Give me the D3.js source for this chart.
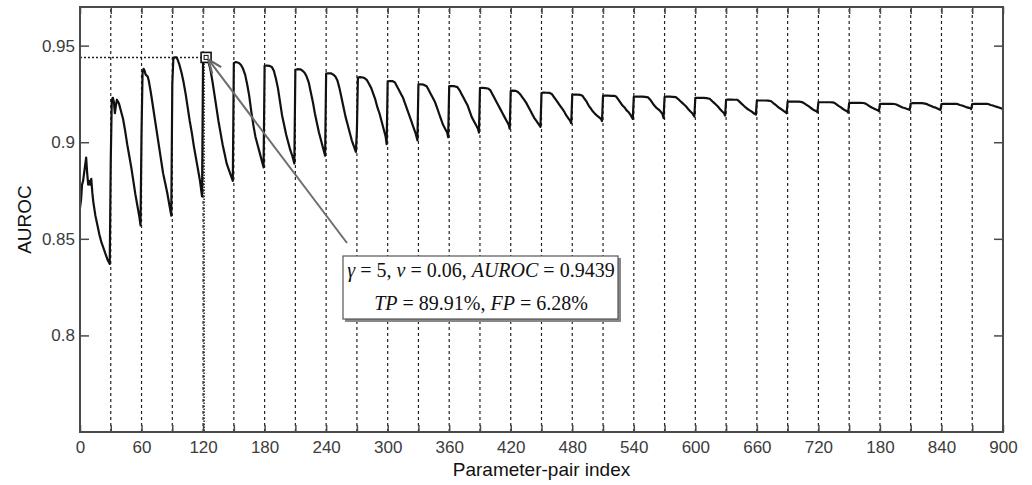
<!DOCTYPE html>
<html>
<head>
<meta charset="utf-8">
<script src="https://cdn.jsdelivr.net/npm/d3@7/dist/d3.min.js"></script>
<style>
	body { margin: 0; background: #fff; }
	.sans { font-family: "Liberation Sans", Arial, sans-serif; }
	.serif { font-family: "Liberation Serif", "Times New Roman", serif; }
</style>
</head>
<body>
<script>
var width = 1032,
	height = 485,
	axisColor = "#4a4a4a",
	labelColor = "#3c3c3c";

// x ticks every 30, labels every 60 (the 780 label reads "180" in the original)
var xTicks = [0, 30, 60, 90, 120, 150, 180, 210, 240, 270, 300, 330, 360, 390, 420, 450,
	480, 510, 540, 570, 600, 630, 660, 690, 720, 750, 780, 810, 840, 870, 900];
var xLabelValues = [0, 60, 120, 180, 240, 300, 360, 420, 480, 540, 600, 660, 720, 780, 840, 900];
var xLabels = ["0", "60", "120", "180", "240", "300", "360", "420", "480", "540", "600", "660", "720", "180", "840", "900"];
var yTicks = [0.8, 0.85, 0.9, 0.95];
var yLabels = ["0.8", "0.85", "0.9", "0.95"];
// dashed separators between the 30 groups of parameter pairs
var groupBounds = [30, 60, 90, 120, 150, 180, 210, 240, 270, 300, 330, 360, 390, 420, 450,
	480, 510, 540, 570, 600, 630, 660, 690, 720, 750, 780, 810, 840, 870];

// AUROC: [parameter-pair index, AUROC], one row per group
var auroc = [
	[0,0.866],[1,0.870],[2,0.878],[3,0.880],[4,0.884],[6,0.892],[7,0.884],[8,0.878],[9,0.880],[10,0.878],[11,0.881],[12,0.874],[13,0.869],[15,0.862],[17,0.857],[19,0.852],[21,0.848],[23,0.845],[25,0.842],[27,0.839],[29,0.837],
	[30,0.891],[31,0.922],[32,0.923],[33,0.921],[34,0.915],[35,0.919],[36,0.922],[38,0.920],[40,0.916],[42,0.912],[44,0.906],[46,0.899],[48,0.893],[50,0.887],[52,0.880],[54,0.873],[56,0.867],[58,0.861],[59,0.857],
	[60,0.905],[61,0.936],[62,0.938],[63,0.937],[64,0.935],[66,0.934],[67,0.932],[69,0.926],[71,0.919],[73,0.912],[75,0.905],[77,0.898],[79,0.891],[81,0.884],[83,0.879],[85,0.874],[87,0.868],[89,0.862],
	[90,0.930],[91,0.943],[92,0.9439],[94,0.9439],[95,0.943],[97,0.940],[99,0.936],[101,0.931],[103,0.925],[105,0.918],[107,0.911],[109,0.905],[111,0.898],[113,0.892],[115,0.886],[117,0.880],[119,0.872],
	[120,0.9439],[121,0.9439],[123,0.9435],[125,0.942],[127,0.938],[129,0.932],[131,0.925],[133,0.918],[135,0.911],[137,0.905],[139,0.899],[141,0.894],[143,0.889],[145,0.886],[147,0.883],[149,0.880],
	[150,0.941],[152,0.9415],[155,0.941],[157,0.940],[159,0.938],[161,0.935],[163,0.930],[165,0.924],[167,0.916],[169,0.909],[171,0.903],[173,0.899],[175,0.895],[177,0.891],[179,0.887],
	[180,0.9395],[182,0.9397],[185,0.9395],[187,0.939],[189,0.937],[191,0.933],[193,0.928],[195,0.921],[197,0.914],[199,0.909],[201,0.904],[203,0.900],[205,0.896],[207,0.893],[209,0.889],
	[210,0.9375],[212,0.9378],[215,0.9377],[217,0.937],[219,0.936],[221,0.934],[223,0.931],[225,0.926],[227,0.921],[229,0.915],[231,0.910],[233,0.905],[235,0.901],[237,0.897],[239,0.893],
	[240,0.9355],[242,0.9357],[245,0.9356],[247,0.935],[249,0.934],[251,0.932],[253,0.928],[255,0.923],[257,0.918],[259,0.913],[261,0.909],[263,0.905],[265,0.901],[267,0.898],[269,0.895],
	[270,0.906],[271,0.9335],[273,0.9337],[276,0.9335],[278,0.933],[280,0.932],[282,0.930],[284,0.928],[286,0.925],[288,0.922],[290,0.918],[292,0.915],[294,0.911],[296,0.907],[298,0.903],[299,0.899],
	[300,0.9315],[302,0.9317],[305,0.9316],[307,0.931],[309,0.929],[311,0.927],[313,0.925],[315,0.923],[317,0.920],[319,0.917],[321,0.914],[323,0.911],[325,0.908],[327,0.905],[329,0.901],
	[330,0.9298],[332,0.930],[335,0.9298],[338,0.929],[340,0.927],[342,0.925],[344,0.923],[346,0.921],[348,0.918],[350,0.915],[352,0.912],[354,0.909],[356,0.907],[358,0.905],[359,0.9026],
	[360,0.929],[362,0.929],[365,0.929],[368,0.9285],[370,0.927],[372,0.925],[374,0.923],[376,0.921],[378,0.919],[380,0.916],[382,0.913],[384,0.911],[386,0.909],[388,0.907],[389,0.905],
	[390,0.928],[392,0.9282],[395,0.928],[398,0.9278],[400,0.927],[402,0.925],[404,0.923],[406,0.921],[408,0.919],[410,0.917],[412,0.915],[414,0.913],[416,0.911],[418,0.909],[419,0.907],
	[420,0.9265],[422,0.9267],[425,0.9266],[427,0.926],[429,0.925],[431,0.9235],[433,0.922],[435,0.9205],[437,0.9185],[439,0.9165],[441,0.9145],[443,0.9125],[445,0.911],[447,0.9095],[449,0.908],
	[450,0.9255],[452,0.9257],[455,0.9256],[458,0.9255],[460,0.925],[462,0.9235],[464,0.922],[466,0.9205],[468,0.919],[470,0.9175],[472,0.916],[474,0.914],[476,0.9125],[478,0.911],[479,0.9098],
	[480,0.9245],[482,0.9247],[485,0.9246],[488,0.9245],[490,0.924],[492,0.9225],[494,0.921],[496,0.919],[498,0.9175],[500,0.916],[502,0.9148],[504,0.9138],[506,0.913],[508,0.912],[509,0.911],
	[510,0.924],[512,0.9241],[515,0.9241],[518,0.924],[521,0.924],[523,0.9235],[525,0.922],[527,0.9205],[529,0.919],[531,0.918],[533,0.9165],[535,0.9155],[537,0.914],[539,0.9121],
	[540,0.9235],[542,0.9236],[545,0.9236],[548,0.9236],[551,0.9235],[554,0.9232],[556,0.922],[558,0.9205],[560,0.919],[562,0.9178],[564,0.917],[566,0.916],[568,0.9145],[569,0.9125],
	[570,0.9234],[572,0.9236],[575,0.9236],[578,0.9235],[581,0.9233],[583,0.9225],[585,0.9215],[587,0.9205],[589,0.9195],[591,0.9185],[593,0.9172],[595,0.916],[597,0.915],[599,0.9133],
	[600,0.923],[602,0.923],[605,0.923],[608,0.923],[611,0.9228],[614,0.9225],[616,0.9215],[618,0.9205],[620,0.9195],[622,0.9185],[624,0.9172],[626,0.916],[628,0.915],[629,0.9138],
	[630,0.922],[632,0.9221],[635,0.9221],[638,0.922],[641,0.922],[643,0.921],[645,0.920],[647,0.919],[649,0.918],[651,0.9172],[653,0.9165],[655,0.9158],[657,0.915],[659,0.9143],
	[660,0.9215],[662,0.9216],[665,0.9216],[668,0.9216],[671,0.9215],[674,0.9212],[676,0.9203],[678,0.9195],[680,0.9185],[682,0.9177],[684,0.917],[686,0.9162],[688,0.9155],[689,0.915],
	[690,0.921],[692,0.921],[695,0.921],[698,0.921],[701,0.921],[704,0.9208],[706,0.9202],[708,0.9195],[710,0.9188],[712,0.918],[714,0.9172],[716,0.9165],[718,0.916],[719,0.9155],
	[720,0.9207],[722,0.9207],[725,0.9207],[728,0.9207],[731,0.9207],[734,0.9206],[736,0.9203],[738,0.9195],[740,0.9187],[742,0.918],[744,0.9172],[746,0.9165],[748,0.916],[749,0.9153],
	[750,0.9203],[752,0.9204],[755,0.9204],[758,0.9204],[761,0.9204],[764,0.9203],[766,0.920],[768,0.9193],[770,0.9186],[772,0.918],[774,0.9175],[776,0.917],[778,0.9165],[779,0.916],
	[780,0.9198],[782,0.9199],[785,0.9199],[788,0.9199],[791,0.9199],[794,0.9198],[796,0.9195],[798,0.919],[800,0.9185],[802,0.918],[804,0.9177],[806,0.9173],[808,0.917],[809,0.9167],
	[810,0.920],[812,0.9202],[815,0.9202],[818,0.9202],[821,0.9202],[824,0.920],[826,0.9197],[828,0.9192],[830,0.9187],[832,0.9182],[834,0.918],[836,0.9175],[838,0.917],[839,0.9167],
	[840,0.9198],[842,0.9199],[845,0.9199],[848,0.9199],[851,0.9199],[854,0.9199],[856,0.9197],[858,0.9193],[860,0.919],[862,0.9186],[864,0.9182],[866,0.9179],[868,0.9176],[869,0.9172],
	[870,0.9198],[872,0.9199],[875,0.9199],[878,0.9199],[881,0.9199],[884,0.9199],[886,0.9197],[888,0.9193],[890,0.919],[892,0.9186],[894,0.9183],[896,0.918],[898,0.9176],[900,0.9172]
];

// best parameter pair (data tip)
var bestIndex = 121,
	bestAuroc = 0.9439;

var svg = d3.select("body")
	.append("svg")
	.attr("width", width)
	.attr("height", height);

var x = d3.scaleLinear().domain([0, 900]).range([80, 1003]);
var y = d3.scaleLinear().domain([0.75, 0.97]).range([432, 7]);

// dashed group separators
svg.selectAll(".sep")
	.data(groupBounds)
	.enter().append("line")
	.attr("class", "sep")
	.attr("x1", function(d) { return x(d); })
	.attr("x2", function(d) { return x(d); })
	.attr("y1", y.range()[0])
	.attr("y2", y.range()[1])
	.attr("stroke", "#222")
	.attr("stroke-width", 1.2)
	.attr("stroke-dasharray", "3,3");

// dotted guides to the best point
svg.append("line")
	.attr("x1", x(0)).attr("x2", x(bestIndex))
	.attr("y1", y(bestAuroc)).attr("y2", y(bestAuroc))
	.attr("stroke", "#222")
	.attr("stroke-width", 1.5)
	.attr("stroke-dasharray", "2,2");
svg.append("line")
	.attr("x1", x(bestIndex)).attr("x2", x(bestIndex))
	.attr("y1", y(bestAuroc)).attr("y2", y.range()[0])
	.attr("stroke", "#222")
	.attr("stroke-width", 1.5)
	.attr("stroke-dasharray", "1.5,1.5");

// the AUROC curve
var line = d3.line()
	.x(function(d) { return x(d[0]); })
	.y(function(d) { return y(d[1]); });

svg.append("path")
	.datum(auroc)
	.attr("d", line)
	.attr("fill", "none")
	.attr("stroke", "#111")
	.attr("stroke-width", 2.2)
	.attr("stroke-linejoin", "round");

// axes, MATLAB style: box with inward ticks
var xAxis = d3.axisBottom(x)
	.tickValues(xTicks)
	.tickSize(-7)
	.tickPadding(9)
	.tickFormat(function(d) {
		var i = xLabelValues.indexOf(d);
		return i < 0 ? "" : xLabels[i];
	});
svg.append("g")
	.attr("transform", "translate(0," + y.range()[0] + ")")
	.call(xAxis);

svg.append("g")
	.attr("transform", "translate(0," + y.range()[1] + ")")
	.call(d3.axisTop(x).tickValues(xTicks).tickSize(-7).tickFormat(""));

var yAxis = d3.axisLeft(y)
	.tickValues(yTicks)
	.tickSize(-9)
	.tickPadding(5)
	.tickFormat(function(d, i) { return yLabels[i]; });
svg.append("g")
	.attr("transform", "translate(" + x.range()[0] + ",0)")
	.call(yAxis);

svg.append("g")
	.attr("transform", "translate(" + x.range()[1] + ",0)")
	.call(d3.axisRight(y).tickValues(yTicks).tickSize(-9).tickFormat(""));

svg.selectAll(".domain").remove();
svg.selectAll(".tick line").attr("stroke", axisColor).attr("stroke-width", 1.5);
svg.selectAll(".tick text")
	.attr("class", "sans")
	.attr("fill", labelColor)
	.attr("font-family", null)
	.style("font-size", "17px");

// frame
svg.append("rect")
	.attr("x", x.range()[0])
	.attr("y", y.range()[1])
	.attr("width", x.range()[1] - x.range()[0])
	.attr("height", y.range()[0] - y.range()[1])
	.attr("fill", "none")
	.attr("stroke", axisColor)
	.attr("stroke-width", 2);

// axis titles
svg.append("text")
	.attr("class", "sans")
	.attr("x", (x.range()[0] + x.range()[1]) / 2)
	.attr("y", 476)
	.attr("text-anchor", "middle")
	.style("font-size", "19px")
	.attr("fill", "#111")
	.text("Parameter-pair index");

svg.append("text")
	.attr("class", "sans")
	.attr("transform", "translate(31," + (y.range()[0] + y.range()[1]) / 2 + ") rotate(-90)")
	.attr("text-anchor", "middle")
	.style("font-size", "19px")
	.attr("fill", "#111")
	.text("AUROC");

// data tip marker
var mx = x(bestIndex) + 2, my = y(bestAuroc);
svg.append("rect")
	.attr("x", mx - 5).attr("y", my - 5)
	.attr("width", 10).attr("height", 10)
	.attr("fill", "#fff")
	.attr("stroke", "#111")
	.attr("stroke-width", 1.6);
svg.append("rect")
	.attr("x", mx - 2).attr("y", my - 2)
	.attr("width", 4).attr("height", 4)
	.attr("fill", "none")
	.attr("stroke", "#111")
	.attr("stroke-width", 1);

// annotation arrow
svg.append("defs").append("marker")
	.attr("id", "head")
	.attr("viewBox", "0 0 10 10")
	.attr("refX", 9).attr("refY", 5)
	.attr("markerWidth", 7).attr("markerHeight", 7)
	.attr("orient", "auto")
	.append("path")
	.attr("d", "M0,1L10,5L0,9")
	.attr("fill", "none")
	.attr("stroke", "#666")
	.attr("stroke-width", 1.6);

svg.append("line")
	.attr("x1", 347).attr("y1", 243)
	.attr("x2", mx + 3).attr("y2", my + 3)
	.attr("stroke", "#6e6e6e")
	.attr("stroke-width", 2)
	.attr("marker-end", "url(#head)");

// annotation box
svg.append("rect")
	.attr("x", 345).attr("y", 258)
	.attr("width", 276).attr("height", 64)
	.attr("fill", "#888");
svg.append("rect")
	.attr("x", 343).attr("y", 256)
	.attr("width", 275).attr("height", 63)
	.attr("fill", "#fff")
	.attr("stroke", "#555")
	.attr("stroke-width", 1.2);

var t1 = svg.append("text")
	.attr("class", "serif")
	.attr("x", 481).attr("y", 277)
	.attr("text-anchor", "middle")
	.style("font-size", "20px")
	.attr("fill", "#111");
t1.append("tspan").style("font-style", "italic").text("γ");
t1.append("tspan").text(" = 5, ");
t1.append("tspan").style("font-style", "italic").text("ν");
t1.append("tspan").text(" = 0.06, ");
t1.append("tspan").style("font-style", "italic").text("AUROC");
t1.append("tspan").text(" = 0.9439");

var t2 = svg.append("text")
	.attr("class", "serif")
	.attr("x", 481).attr("y", 310)
	.attr("text-anchor", "middle")
	.style("font-size", "20px")
	.attr("fill", "#111");
t2.append("tspan").style("font-style", "italic").text("TP");
t2.append("tspan").text(" = 89.91%, ");
t2.append("tspan").style("font-style", "italic").text("FP");
t2.append("tspan").text(" = 6.28%");
</script>
</body>
</html>
